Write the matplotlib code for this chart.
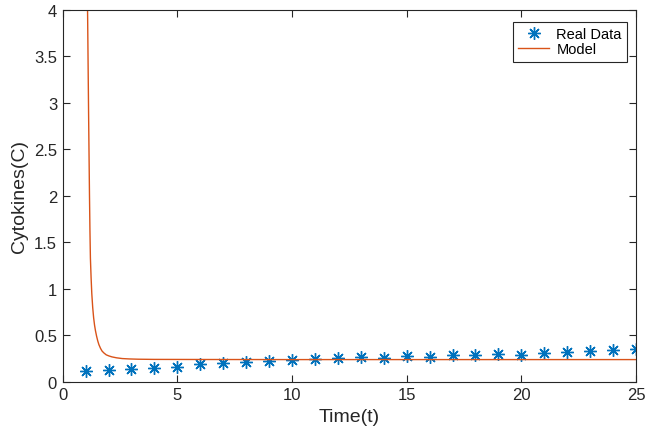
import numpy as np
import matplotlib.pyplot as plt

plt.rcParams['font.family'] = ['Liberation Sans', 'DejaVu Sans']

# 实测数据 (t = 1..25)
t_data = [1, 2, 3, 4, 5, 6, 7, 8, 9, 10, 11, 12, 13, 14, 15, 16, 17, 18, 19, 20, 21, 22, 23, 24, 25]
c_data = [0.115, 0.125, 0.139, 0.150, 0.164, 0.190, 0.200, 0.218, 0.225, 0.236, 0.250, 0.257, 0.266,
          0.257, 0.279, 0.268, 0.293, 0.286, 0.300, 0.293, 0.314, 0.325, 0.332, 0.343, 0.357]

# 模型曲线 (从图上读取的点)
t_model = [1.07, 1.09, 1.11, 1.13, 1.15, 1.17, 1.19, 1.21, 1.24, 1.27, 1.31, 1.35, 1.39, 1.43, 1.48,
           1.53, 1.58, 1.65, 1.72, 1.80, 1.90, 2.02, 2.15, 2.35, 2.60, 2.90, 3.3, 4.0, 6.0, 10.0, 15.0, 20.0, 25.0]
c_model = [4.30, 3.90, 3.40, 2.90, 2.45, 2.00, 1.62, 1.33, 1.12, 0.95, 0.80, 0.69, 0.61, 0.55, 0.49,
           0.44, 0.40, 0.36, 0.33, 0.31, 0.29, 0.278, 0.268, 0.258, 0.250, 0.246, 0.243, 0.241, 0.240,
           0.239, 0.239, 0.239, 0.239]

fig = plt.figure(figsize=(6.46, 4.35), dpi=100)
ax = fig.add_axes([0.097, 0.120, 0.8875, 0.8547])

ax.plot(t_data, c_data, linestyle='none', marker=(8, 2, 0), markersize=9,
        markeredgewidth=1.0, color='#0072BD', label='Real Data')
ax.plot(t_model, c_model, color='#D95319', linewidth=1.0, label='Model')

ax.set_xlim(0, 25)
ax.set_ylim(0, 4)
ax.set_xticks([0, 5, 10, 15, 20, 25])
ax.set_yticks([0, 0.5, 1, 1.5, 2, 2.5, 3, 3.5, 4])
ax.set_yticklabels(['0', '0.5', '1', '1.5', '2', '2.5', '3', '3.5', '4'])
ax.tick_params(direction='in', top=True, right=True, length=5, width=0.8,
               labelsize=12, colors='#262626', pad=4)
for s in ax.spines.values():
    s.set_color('#262626')
    s.set_linewidth(0.8)

ax.set_xlabel('Time(t)', fontsize=14, color='#262626')
ax.set_ylabel('Cytokines(C)', fontsize=14, color='#262626')

leg = ax.legend(loc='upper right', bbox_to_anchor=(0.984, 0.968), borderaxespad=0,
                fontsize=10.5, fancybox=False, edgecolor='#262626', framealpha=1,
                handlelength=2.1, handletextpad=0.5, borderpad=0.35, labelspacing=0.1)
leg.get_frame().set_linewidth(0.8)

fig.savefig('out.png', dpi=100)
